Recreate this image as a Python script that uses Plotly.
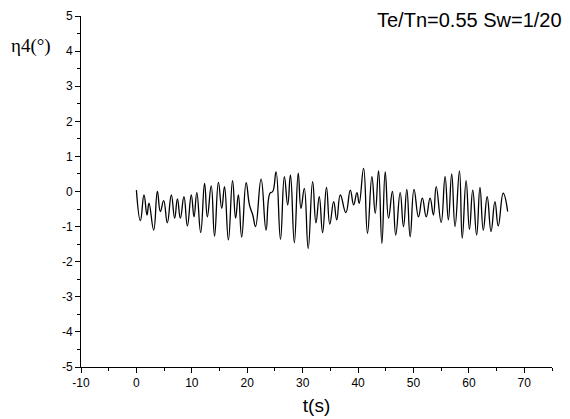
import plotly.graph_objects as go

# Time (s) at the turning points of the trace
t = [0.0, 0.72, 1.37, 1.91, 2.27, 3.12, 3.78, 4.32, 4.92, 5.58, 6.3, 6.9, 7.4, 7.93,
     8.58, 9.2, 9.9, 10.4, 10.9, 11.6, 12.3, 12.8, 13.5, 14.1, 14.8, 15.4, 15.9, 16.6,
     17.35, 17.9, 18.4, 19.0, 19.8, 20.4, 21.0, 21.5, 22.5, 23.4, 24.1, 24.6, 25.2,
     26.0, 26.7, 27.3, 27.8, 28.5, 29.2, 29.7, 30.3, 31.0, 31.8, 32.4, 33.0, 33.6,
     34.3, 34.9, 35.6, 36.15, 36.8, 37.8, 38.6, 39.2, 39.8, 40.2, 41.0, 41.7, 42.5,
     43.1, 43.7, 44.3, 44.9, 45.5, 46.2, 46.8, 47.6, 48.2, 48.8, 49.4, 50.1, 50.9,
     51.6, 52.3, 53.0, 53.6, 54.1, 55.0, 55.7, 56.3, 56.9, 57.5, 58.3, 58.8, 59.5,
     60.1, 60.7, 61.4, 62.0, 62.6, 63.3, 64.0, 64.7, 65.3, 66.2, 67.0]
# Roll angle eta4 (deg) at those points
eta4 = [0.04, -0.83, -0.1, -0.67, -0.33, -1.1, 0.0, -0.57, -0.26, -0.89, -0.1, -0.76,
        -0.21, -0.76, -0.15, -0.98, -0.1, -0.72, -0.03, -1.17, 0.23, -0.72, 0.16, -1.27,
        0.26, -0.48, 0.14, -1.38, 0.31, -0.76, -0.1, -1.3, 0.25, -0.38, -0.67, -1.0,
        0.35, -1.1, -0.05, 0.0, 0.56, -1.36, 0.42, -0.38, 0.47, -1.46, 0.52, -0.48,
        0.09, -1.62, 0.28, -0.89, -0.15, -1.17, 0.12, -0.93, -0.29, -0.81, -0.1, -0.6,
        0.04, -0.38, -0.03, -0.34, 0.66, -1.19, 0.42, -0.62, 0.59, -1.48, 0.56, -0.76,
        0.0, -1.24, -0.03, -1.0, 0.06, -1.29, 0.06, -0.72, -0.19, -0.72, -0.19, -0.67,
        0.14, -0.88, 0.42, -0.81, 0.5, -1.0, 0.59, -1.33, 0.31, -1.08, 0.04, -1.24,
        0.12, -1.1, -0.15, -1.14, -0.29, -0.98, -0.05, -0.57]

x_ticks = [-10, 0, 10, 20, 30, 40, 50, 60, 70]
y_ticks = [-5, -4, -3, -2, -1, 0, 1, 2, 3, 4, 5]

fig = go.Figure()
fig.add_trace(go.Scatter(x=t, y=eta4, mode="lines",
                         line=dict(color="black", width=1.3, shape="spline", smoothing=1.3),
                         showlegend=False))

axis_common = dict(showline=True, linecolor="black", linewidth=1, showgrid=False,
                   zeroline=False, ticks="outside", ticklen=5, tickwidth=1,
                   tickcolor="black", mirror=False, automargin=False,
                   tickfont=dict(family="Liberation Sans, Arial", size=12, color="black"))

fig.update_layout(
    width=570, height=419,
    margin=dict(l=81, r=18, t=16, b=52),
    paper_bgcolor="white", plot_bgcolor="white",
    xaxis=dict(range=[-10, 75], tickvals=x_ticks, ticktext=[str(v) for v in x_ticks],
               minor=dict(dtick=5, ticks="outside", ticklen=3, tickcolor="black", showgrid=False),
               title=dict(text="t(s)", standoff=9,
                          font=dict(family="Liberation Sans, Arial", size=19, color="black")),
               **axis_common),
    yaxis=dict(range=[-5, 5], tickvals=y_ticks, ticktext=[str(v) for v in y_ticks],
               minor=dict(dtick=0.5, ticks="outside", ticklen=3, tickcolor="black", showgrid=False),
               **axis_common),
    annotations=[
        dict(text="η4(°)", xref="paper", yref="paper", x=-0.152, y=0.915,
             xanchor="left", yanchor="middle", showarrow=False,
             font=dict(family="Liberation Serif, Times New Roman", size=19, color="black")),
        dict(text="Te/Tn=0.55 Sw=1/20", xref="paper", yref="paper", x=1.025, y=0.99,
             xanchor="right", yanchor="middle", showarrow=False,
             font=dict(family="Liberation Sans, Arial", size=20, color="black")),
    ],
)

fig.write_html("out.html")
